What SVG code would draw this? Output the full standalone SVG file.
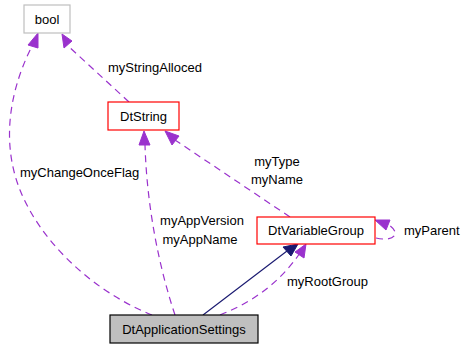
<svg xmlns="http://www.w3.org/2000/svg" width="466" height="349" viewBox="0 0 466 349">
<style>
text{font-family:"Liberation Sans",Arial,sans-serif;font-size:13px;fill:#000}
.c{text-anchor:middle}
.e{fill:none;stroke:#9a32cd;stroke-dasharray:7,5;stroke-width:1.2}
.h{fill:#9a32cd;stroke:#9a32cd}
.box{fill:#fff;stroke:#ff0000;stroke-width:1.2}
</style>
<rect width="466" height="349" fill="#fff"/>
<g id="connectors">
<path class="e" d="M129,102 L67,45"/>
<polygon class="h" points="62,34 72,41 64,48"/>
<path class="e" d="M152,315 C90,290 40,240 20,190 C4,150 5,100 32,46"/>
<polygon class="h" points="38,33 38,48 28,45"/>
<path class="e" d="M175,315 C160,270 147,210 145,145"/>
<polygon class="h" points="144,131 150,145 139,145"/>
<path class="e" d="M290,217 L175,140"/>
<polygon class="h" points="165,131 179,136 172,145"/>
<path d="M203,315 L287,251" fill="none" stroke="#191970" stroke-width="1.2"/>
<polygon points="298,244 291,256 283,247" fill="#191970" stroke="#191970"/>
<path class="e" d="M220,315 C250,303 278,285 300,253"/>
<polygon class="h" points="306,244 304,258 295,252"/>
<path class="e" d="M376,238 C393,242 402,234 389,225"/>
<polygon class="h" points="375,220 390,220 386,230"/>
<text x="108" y="72">myStringAlloced</text>
<text x="20" y="177">myChangeOnceFlag</text>
<text x="202" y="225" class="c">myAppVersion</text>
<text x="200" y="244" class="c">myAppName</text>
<text x="277" y="166" class="c">myType</text>
<text x="277" y="184" class="c">myName</text>
<text x="287" y="286">myRootGroup</text>
<text x="404" y="235">myParent</text>
</g>
<g id="bool">
<rect x="24" y="5" width="46" height="28" fill="#fff" stroke="#bfbfbf" stroke-width="1.2"/>
<text x="47" y="24" class="c">bool</text>
</g>
<g id="DtString">
<rect class="box" x="108" y="102" width="71" height="28"/>
<text x="143.5" y="121" class="c">DtString</text>
</g>
<g id="DtVariableGroup">
<rect class="box" x="257" y="217" width="118" height="27"/>
<text x="316" y="235" class="c">DtVariableGroup</text>
</g>
<g id="DtApplicationSettings">
<rect x="110" y="315" width="148" height="28" fill="#bfbfbf" stroke="#000" stroke-width="1.2"/>
<text x="184" y="334" class="c">DtApplicationSettings</text>
</g>
</svg>
